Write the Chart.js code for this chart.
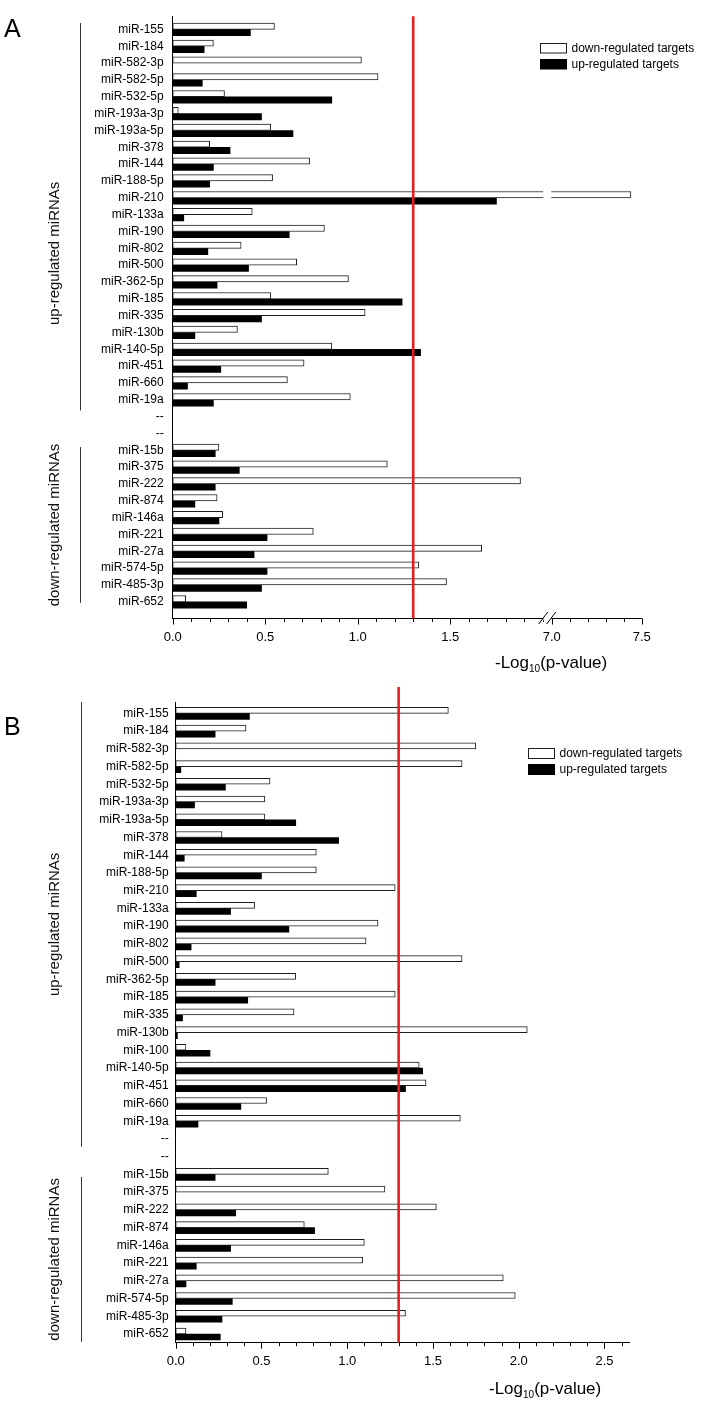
<!DOCTYPE html>
<html>
<head>
<meta charset="utf-8">
<script src="https://cdn.jsdelivr.net/npm/chart.js@4.4.1/dist/chart.umd.min.js"></script>
<style>
  html, body { margin: 0; padding: 0; background: #fff; }
  .wrap { position: absolute; left: 0; width: 722px; }
  #wrapA { top: 0; height: 680px; }
  #wrapB { top: 680px; height: 726px; }
</style>
</head>
<body>
<div class="wrap" id="wrapA"><canvas id="chartA"></canvas></div>
<div class="wrap" id="wrapB"><canvas id="chartB"></canvas></div>
<script>
const FONT = "'Liberation Sans', Arial, sans-serif"

// panel A
const labelsA = ['miR-155', 'miR-184', 'miR-582-3p', 'miR-582-5p', 'miR-532-5p', 'miR-193a-3p', 'miR-193a-5p',
  'miR-378', 'miR-144', 'miR-188-5p', 'miR-210', 'miR-133a', 'miR-190', 'miR-802', 'miR-500', 'miR-362-5p',
  'miR-185', 'miR-335', 'miR-130b', 'miR-140-5p', 'miR-451', 'miR-660', 'miR-19a', '--', '--',
  'miR-15b', 'miR-375', 'miR-222', 'miR-874', 'miR-146a', 'miR-221', 'miR-27a', 'miR-574-5p', 'miR-485-3p', 'miR-652']
const downA = [0.55, 0.22, 1.02, 1.11, 0.28, 0.03, 0.53, 0.20, 0.74, 0.54, 7.44, 0.43, 0.82, 0.37, 0.67, 0.95,
  0.53, 1.04, 0.35, 0.86, 0.71, 0.62, 0.96, null, null,
  0.25, 1.16, 1.88, 0.24, 0.27, 0.76, 1.67, 1.33, 1.48, 0.07]
const upA = [0.42, 0.17, 0, 0.16, 0.86, 0.48, 0.65, 0.31, 0.22, 0.20, 1.75, 0.06, 0.63, 0.19, 0.41, 0.24,
  1.24, 0.48, 0.12, 1.34, 0.26, 0.08, 0.22, null, null,
  0.23, 0.36, 0.23, 0.12, 0.25, 0.51, 0.44, 0.51, 0.48, 0.40]
const tickLabelsA = ['0.0', '0.5', '1.0', '1.5', '7.0', '7.5']
const tickRangesA = [[0, 2.0], [7.0, 7.5]]

// panel B
const labelsB = ['miR-155', 'miR-184', 'miR-582-3p', 'miR-582-5p', 'miR-532-5p', 'miR-193a-3p', 'miR-193a-5p',
  'miR-378', 'miR-144', 'miR-188-5p', 'miR-210', 'miR-133a', 'miR-190', 'miR-802', 'miR-500', 'miR-362-5p',
  'miR-185', 'miR-335', 'miR-130b', 'miR-100', 'miR-140-5p', 'miR-451', 'miR-660', 'miR-19a', '--', '--',
  'miR-15b', 'miR-375', 'miR-222', 'miR-874', 'miR-146a', 'miR-221', 'miR-27a', 'miR-574-5p', 'miR-485-3p', 'miR-652']
const downB = [1.59, 0.41, 1.75, 1.67, 0.55, 0.52, 0.52, 0.27, 0.82, 0.82, 1.28, 0.46, 1.18, 1.11, 1.67, 0.70,
  1.28, 0.69, 2.05, 0.06, 1.42, 1.46, 0.53, 1.66, null, null,
  0.89, 1.22, 1.52, 0.75, 1.10, 1.09, 1.91, 1.98, 1.34, 0.06]
const upB = [0.43, 0.23, 0, 0.03, 0.29, 0.11, 0.70, 0.95, 0.05, 0.50, 0.12, 0.32, 0.66, 0.09, 0.02, 0.23,
  0.42, 0.04, 0.01, 0.20, 1.44, 1.34, 0.38, 0.13, null, null,
  0.23, 0, 0.35, 0.81, 0.32, 0.12, 0.06, 0.33, 0.27, 0.26]
const tickLabelsB = ['0.0', '0.5', '1.0', '1.5', '2.0', '2.5']
const tickRangesB = [[0, 2.6]]

const cutoff = 1.30 // -log10(0.05)
const minorStep = 0.1

// axis break for panel A: 2.0 .. 7.0 is cut out
const BREAK = { from: 2.0, to: 7.0, gap: 0.049, squeeze: 0.972 }
function brk(v) {
  return v <= BREAK.from ? v : BREAK.from + BREAK.gap + (v - BREAK.to) * BREAK.squeeze
}

class BrokenLinearScale extends Chart.LinearScale {
  configure() {
    super.configure()
    this._startValue = brk(this.min)
    this._endValue = brk(this.max)
    this._valueRange = this._endValue - this._startValue
  }
  getPixelForValue(value) {
    return value === null ? NaN : this.getPixelForDecimal((brk(value) - this._startValue) / this._valueRange)
  }
}
BrokenLinearScale.id = 'brokenLinear'
BrokenLinearScale.defaults = Chart.LinearScale.defaults
Chart.register(BrokenLinearScale)

function makeTicks(ranges) {
  const out = []
  ranges.forEach(([a, b]) => {
    for (let v = a; v <= b + 1e-9; v += minorStep) out.push({ value: Math.round(v * 10) / 10 })
  })
  return out
}

function tickText(list, v) {
  return list.find(l => Math.abs(parseFloat(l) - v) < 1e-6) || ''
}

const decorCfg = {
  chartA: {
    letter: 'A', letterX: 4, letterY: 37, redAbove: 0, breakRow: 'miR-210',
    bracketX: 80, groupTextX: 55,
    groups: [{ text: 'up-regulated miRNAs', from: -0.38, to: 22.63, mid: 13.3 },
             { text: 'down-regulated miRNAs', from: 24.81, to: 34.06 }],
    legendX: 540, legendY: 43, legendStep: 16, boxW: 27, boxH: 10.5,
    titleX: 495, titleY: 668, titleSize: 17, subSize: 10, subDrop: 4
  },
  chartB: {
    letter: 'B', letterX: 4, letterY: 55, redAbove: 15, breakRow: null,
    bracketX: 81, groupTextX: 55,
    groups: [{ text: 'up-regulated miRNAs', from: -0.64, to: 24.44 },
             { text: 'down-regulated miRNAs', from: 26.14, to: 35.44 }],
    legendX: 528, legendY: 68, legendStep: 16, boxW: 27, boxH: 11,
    titleX: 489, titleY: 714, titleSize: 17, subSize: 10, subDrop: 4
  }
}

const decor = {
  id: 'decor',
  afterDatasetsDraw(chart) {
    const o = decorCfg[chart.canvas.id]
    const { ctx, chartArea: a } = chart
    const xc = chart.scales.x.getPixelForValue(cutoff)
    ctx.save()
    ctx.strokeStyle = '#e0201e'
    ctx.lineWidth = 2.6
    ctx.beginPath()
    ctx.moveTo(xc, a.top - o.redAbove)
    ctx.lineTo(xc, a.bottom)
    ctx.stroke()
    ctx.restore()
  },
  afterDraw(chart) {
    const o = decorCfg[chart.canvas.id]
    const { ctx, chartArea: a } = chart
    const { x, y } = chart.scales
    ctx.save()

    // tick marks, long where labelled
    ctx.strokeStyle = '#000'
    ctx.lineWidth = 1
    x.ticks.forEach(t => {
      const px = Math.round(x.getPixelForValue(t.value)) + 0.5
      const len = t.label ? 6 : 3.5
      ctx.beginPath()
      ctx.moveTo(px, a.bottom)
      ctx.lineTo(px, a.bottom + len)
      ctx.stroke()
    })

    // axis break
    if (o.breakRow) {
      const bx = (x.getPixelForValue(BREAK.from) + x.getPixelForValue(BREAK.to)) / 2
      const ry = y.getPixelForValue(chart.data.labels.indexOf(o.breakRow))
      ctx.fillStyle = '#fff'
      ctx.fillRect(bx - 4, ry - 8, 8, 9)
      ctx.fillRect(bx - 4, a.bottom - 2, 8, 4)
      ;[-4, 4].forEach(d => {
        ctx.beginPath()
        ctx.moveTo(bx + d - 4.5, a.bottom + 5.5)
        ctx.lineTo(bx + d + 4.5, a.bottom - 6.5)
        ctx.stroke()
      })
    }

    // group brackets on the left
    ctx.strokeStyle = '#333'
    ctx.fillStyle = '#111'
    ctx.font = `15px ${FONT}`
    o.groups.forEach(g => {
      const y1 = y.getPixelForValue(g.from)
      const y2 = y.getPixelForValue(g.to)
      const ym = g.mid !== undefined ? y.getPixelForValue(g.mid) : (y1 + y2) / 2
      ctx.beginPath()
      ctx.moveTo(o.bracketX + 0.5, y1)
      ctx.lineTo(o.bracketX + 0.5, y2)
      ctx.stroke()
      ctx.save()
      ctx.translate(o.groupTextX, ym)
      ctx.rotate(-Math.PI / 2)
      ctx.textAlign = 'center'
      ctx.textBaseline = 'middle'
      ctx.fillText(g.text, 0, 0)
      ctx.restore()
    })

    // panel letter
    ctx.fillStyle = '#000'
    ctx.font = `25px ${FONT}`
    ctx.textAlign = 'left'
    ctx.textBaseline = 'alphabetic'
    ctx.fillText(o.letter, o.letterX, o.letterY)

    // legend
    ctx.font = `12px ${FONT}`
    ctx.textBaseline = 'middle'
    chart.data.datasets.forEach((ds, i) => {
      const by = o.legendY + i * o.legendStep
      ctx.fillStyle = ds.backgroundColor
      ctx.fillRect(o.legendX, by, o.boxW, o.boxH)
      if (ds.borderWidth) {
        ctx.strokeStyle = ds.borderColor
        ctx.strokeRect(o.legendX + 0.5, by + 0.5, o.boxW - 1, o.boxH - 1)
      }
      ctx.fillStyle = '#000'
      ctx.fillText(ds.label, o.legendX + o.boxW + 4.5, by + o.boxH / 2 + 0.5)
    })

    // axis title with subscript
    ctx.textBaseline = 'alphabetic'
    let tx = o.titleX
    ;[['-Log', o.titleSize, 0], ['10', o.subSize, o.subDrop], ['(p-value)', o.titleSize, 0]].forEach(([s, size, dy]) => {
      ctx.font = `${size}px ${FONT}`
      ctx.fillText(s, tx, o.titleY + dy)
      tx += ctx.measureText(s).width
    })
    ctx.restore()
  }
}

function makeChart(id, p) {
  return new Chart(document.getElementById(id), {
    type: 'bar',
    data: {
      labels: p.labels,
      datasets: [
        { label: 'down-regulated targets', data: p.down, backgroundColor: '#ffffff', borderColor: '#1e1e1e',
          borderWidth: 1, borderSkipped: false, barThickness: p.bar },
        { label: 'up-regulated targets', data: p.up, backgroundColor: '#000000', borderWidth: 0, barThickness: p.bar }
      ]
    },
    options: {
      indexAxis: 'y',
      responsive: true,
      maintainAspectRatio: false,
      animation: false,
      events: [],
      layout: { padding: { top: p.top, right: p.right, left: 0, bottom: 0 } },
      scales: {
        x: {
          type: p.xType, min: 0, max: p.xMax,
          grid: { display: false, drawTicks: false },
          border: { color: '#000', width: 1 },
          afterBuildTicks: s => { s.ticks = makeTicks(p.tickRanges) },
          afterFit: s => { s.height = p.height - p.bottom },
          ticks: {
            autoSkip: false, maxRotation: 0, padding: 11, color: '#000',
            font: { family: FONT, size: 13 },
            callback: v => tickText(p.tickLabels, v)
          }
        },
        y: {
          grid: { display: false, drawTicks: false },
          border: { color: '#000', width: 1 },
          // stretch the category range so the rows sit like in the original plot
          afterBuildTicks: s => { s._startValue = p.yStart; s._valueRange = p.yEnd - p.yStart },
          afterFit: s => { s.width = p.left },
          ticks: { autoSkip: false, padding: p.labelPad, color: '#000', font: { family: FONT, size: 12 } }
        }
      },
      plugins: { legend: { display: false }, tooltip: { enabled: false } }
    },
    plugins: [decor]
  })
}

makeChart('chartA', {
  labels: labelsA, down: downA, up: upA, tickLabels: tickLabelsA, tickRanges: tickRangesA,
  xType: 'brokenLinear', xMax: 7.5, bar: 6.3, height: 680, top: 5, bottom: 618.5, left: 172.7, right: 80.3,
  yStart: -0.787, yEnd: 34.99, labelPad: 9
})

makeChart('chartB', {
  labels: labelsB, down: downB, up: upB, tickLabels: tickLabelsB, tickRanges: tickRangesB,
  xType: 'linear', xMax: 2.645, bar: 6, height: 726, top: 22, bottom: 662.7, left: 175.7, right: 92.7,
  yStart: -0.64, yEnd: 35.49, labelPad: 7
})
</script>
</body>
</html>
